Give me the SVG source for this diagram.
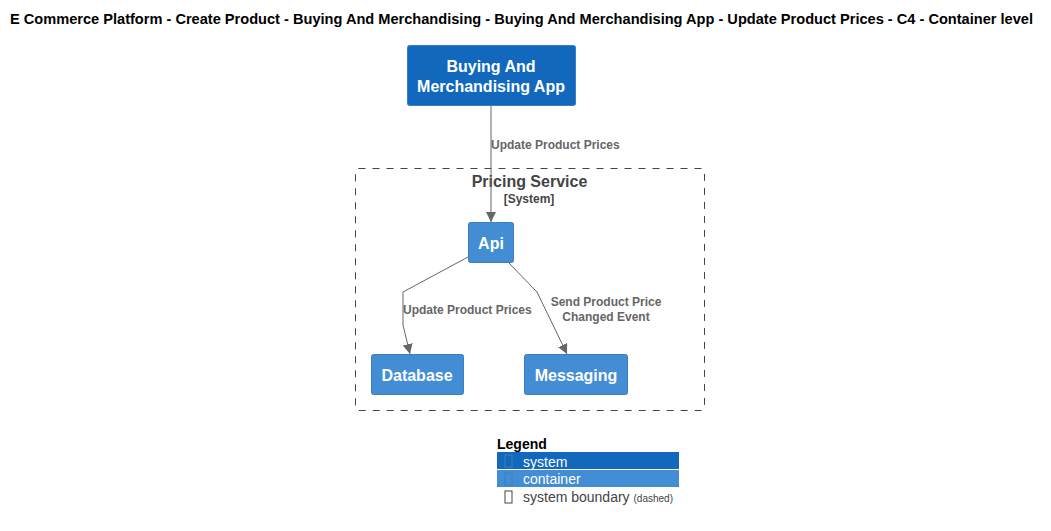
<svg xmlns="http://www.w3.org/2000/svg" width="1051" height="531" viewBox="0 0 1051 531">
<style>
text{font-family:"Liberation Sans",Arial,sans-serif}
.title{font-size:14px;font-weight:bold;fill:#000}
.nt{font-size:16px;font-weight:bold;fill:#fff;text-anchor:middle}
.sys{fill:#1168BD;stroke:#3C7FC0;stroke-width:1}
.cont{fill:#438DD5;stroke:#3C7FC0;stroke-width:1}
.el{font-size:12px;font-weight:bold;fill:#666}
.edge{fill:none;stroke:#666;stroke-width:1}
.lg{font-size:14px;fill:#fff}
</style>
<defs>
<marker id="arr" viewBox="0 0 10 10" refX="10" refY="5" markerWidth="10" markerHeight="10" markerUnits="userSpaceOnUse" orient="auto">
<path d="M0,0 L10,5 L0,10 Z" fill="#666"/>
</marker>
</defs>
<rect width="1051" height="531" fill="#fff"/>
<text class="title" x="10" y="24" textLength="1023" lengthAdjust="spacingAndGlyphs">E Commerce Platform - Create Product - Buying And Merchandising - Buying And Merchandising App - Update Product Prices - C4 - Container level</text>

<g id="boundary-pricing-service">
<rect x="355.5" y="168.5" width="349" height="242" rx="3" fill="none" stroke="#444" stroke-dasharray="7,7"/>
<text x="529.5" y="187" font-size="16" font-weight="bold" fill="#444" text-anchor="middle">Pricing Service</text>
<text x="529" y="203" font-size="12" font-weight="bold" fill="#444" text-anchor="middle">[System]</text>
</g>

<g id="connectors">
<path class="edge" d="M491,105 L491,222" marker-end="url(#arr)"/>
<text class="el" x="491" y="149">Update Product Prices</text>
<path class="edge" d="M468,257 L403,292 L403,325 L410,354" marker-end="url(#arr)"/>
<text class="el" x="403" y="314">Update Product Prices</text>
<path class="edge" d="M508,262 L537,292 L567,354" marker-end="url(#arr)"/>
<text class="el" x="606" y="306" text-anchor="middle">Send Product Price</text>
<text class="el" x="606" y="321" text-anchor="middle">Changed Event</text>
</g>

<g id="node-buying-app">
<rect class="sys" x="407.5" y="45.5" width="168" height="60" rx="2"/>
<text class="nt" x="491" y="72">Buying And</text>
<text class="nt" x="491" y="92">Merchandising App</text>
</g>

<g id="node-api">
<rect class="cont" x="468.5" y="222.5" width="45" height="40" rx="2"/>
<text class="nt" x="491" y="249">Api</text>
</g>

<g id="node-database">
<rect class="cont" x="371.5" y="354.5" width="92" height="40" rx="2"/>
<text class="nt" x="417" y="381">Database</text>
</g>

<g id="node-messaging">
<rect class="cont" x="524.5" y="354.5" width="103" height="40" rx="2"/>
<text class="nt" x="576" y="381">Messaging</text>
</g>

<g id="legend">
<text x="497" y="449" font-size="14" font-weight="bold" fill="#000">Legend</text>
<rect x="497" y="452" width="182" height="17" fill="#1168BD"/>
<rect x="505" y="455" width="7" height="12" fill="none" stroke="#3C7FC0"/>
<text class="lg" x="523" y="467">system</text>
<rect x="497" y="470" width="182" height="17" fill="#438DD5"/>
<rect x="505" y="473" width="7" height="12" fill="none" stroke="#3C7FC0"/>
<text class="lg" x="523" y="484">container</text>
<rect x="505" y="491" width="7" height="12" fill="none" stroke="#444"/>
<text x="523" y="502" font-size="14" fill="#444">system boundary <tspan font-size="10">(dashed)</tspan></text>
</g>
</svg>
